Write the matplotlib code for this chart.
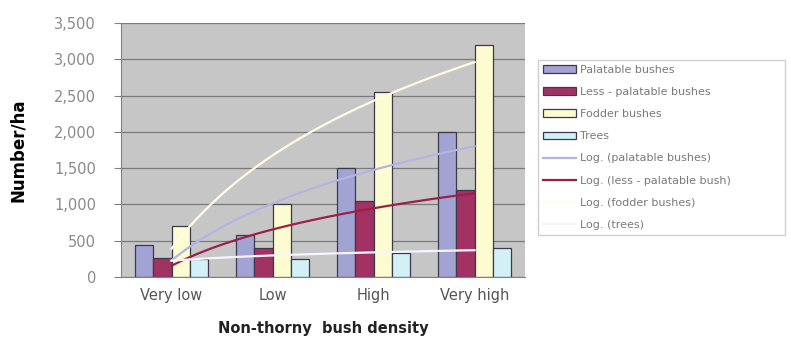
import numpy as np
import matplotlib
matplotlib.use("Agg")
import matplotlib.pyplot as plt
from matplotlib.ticker import FuncFormatter, MultipleLocator

categories = ["Very low", "Low", "High", "Very high"]
palatable = [440, 580, 1500, 2000]
less_palatable = [260, 400, 1050, 1200]
fodder = [700, 1000, 2550, 3200]
trees = [250, 250, 330, 400]

bar_labels = ["Palatable bushes", "Less - palatable bushes", "Fodder bushes", "Trees"]
trend_labels = ["Log. (palatable bushes)", "Log. (less - palatable bush)",
                "Log. (fodder bushes)", "Log. (trees)"]
bar_colors = ["#a3a3d3", "#a23263", "#fcfcd0", "#d2f0f6"]
trend_colors = ["#b4b4e4", "#9c2048", "#fffbe6", "#f6f4fc"]

W, H = 791, 337
fig = plt.figure(figsize=(W / 100, H / 100), dpi=100)
ax = fig.add_axes([121 / W, 60 / H, 404 / W, 254 / H])
ax.set_facecolor("#c6c6c6")

series = [palatable, less_palatable, fodder, trees]
x = np.arange(1, len(categories) + 1)
w = 0.18
offsets = [-1.5, -0.5, 0.5, 1.5]
handles = []
for s, c, lab, off in zip(series, bar_colors, bar_labels, offsets):
    h = ax.bar(x + off * w, s, width=w, color=c, edgecolor="#3a3a4a",
               linewidth=0.9, label=lab, zorder=2)
    handles.append(h)

xs = np.linspace(1, 4, 100)
for s, c, lab in zip(series, trend_colors, trend_labels):
    a, b = np.polyfit(np.log(x), np.array(s, dtype=float), 1)
    h, = ax.plot(xs, a * np.log(xs) + b, color=c, linewidth=1.6, label=lab, zorder=3)
    handles.append(h)

ax.set_xlim(0.5, 4.5)
ax.set_ylim(0, 3500)
ax.yaxis.set_major_locator(MultipleLocator(500))
ax.yaxis.set_major_formatter(FuncFormatter(lambda v, p: f"{int(v):,}"))
ax.grid(axis="y", color="#7a7a7a", linewidth=0.9, zorder=1)
ax.set_axisbelow(True)
ax.set_xticks(x)
ax.set_xticklabels(categories)
ax.tick_params(axis="x", length=0, pad=8, labelsize=10.5, labelcolor="#555555")
ax.tick_params(axis="y", length=5, width=0.8, color="#808080", pad=13,
               labelsize=10.5, labelcolor="#8a8a8a")
for side in ["top", "right"]:
    ax.spines[side].set_visible(False)
ax.spines["left"].set_color("#808080")
ax.spines["bottom"].set_color("#808080")

ax.set_ylabel("Number/ha", fontsize=12, fontweight="bold")
ax.yaxis.set_label_coords((27 - 121) / 404, 0.5)
ax.set_xlabel("Non-thorny  bush density", fontsize=10.5, fontweight="bold",
              color="#222222")
ax.xaxis.set_label_coords(0.5, (277 - 321) / 254)

leg = fig.legend(handles=handles, loc="upper left",
                 bbox_to_anchor=(538 / W, 1 - 238 / H, 247 / W, 178 / H),
                 mode="expand", frameon=True,
                 fancybox=False, edgecolor="#c4c4c4", fontsize=8,
                 labelcolor="#7a7a7a", handlelength=3.0, handleheight=0.7,
                 borderpad=0.45, labelspacing=1.09, handletextpad=0.3,
                 borderaxespad=0)
leg.get_frame().set_linewidth(1.0)

fig.savefig("out.png", dpi=100)
